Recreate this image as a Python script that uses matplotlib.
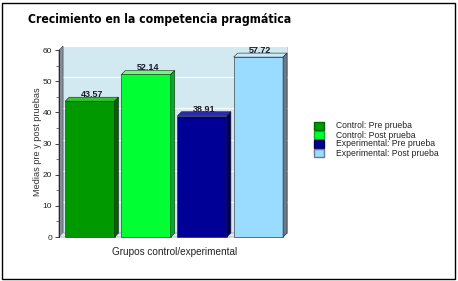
import matplotlib
matplotlib.use("Agg")
import matplotlib.pyplot as plt
from matplotlib.patches import Polygon, Rectangle
from matplotlib import font_manager as fm

categories = ["Control: Pre prueba", "Control: Post prueba",
              "Experimental: Pre prueba", "Experimental: Post prueba"]
values = [43.57, 52.14, 38.91, 57.72]
value_labels = ["43.57", "52.14", "38.91", "57.72"]
yticks = [0, 10, 20, 30, 40, 50, 60]
title = "Crecimiento en la competencia pragmática"
ylabel = "Medias pre y post pruebas"
xlabel = "Grupos control/experimental"

front_colors = ["#009a00", "#00ff33", "#000096", "#99dcff"]
top_colors = ["#33c433", "#66ff77", "#2a2ab0", "#c8ecff"]
side_colors = ["#006400", "#00b020", "#000058", "#6a7c88"]

title_kw = dict(family="Roboto", fontweight="black", fontsize=7.9)
try:
    fp = fm.FontProperties(family="DejaVu Sans", stretch="condensed", weight="bold")
    fpath = fm.findfont(fp, fallback_to_default=False)
    if "Condensed" in fpath:
        title_kw = dict(fontproperties=fm.FontProperties(fname=fpath, size=8.7))
except Exception:
    pass

W, H = 458, 281
fig = plt.figure(figsize=(W / 100, H / 100), dpi=100)
fig.patch.set_facecolor("white")

fig.add_artist(Rectangle((2 / W, 2 / H), 453 / W, 276 / H, transform=fig.transFigure,
                         fill=False, edgecolor="black", lw=1.0))

x0, x1 = 59, 287
y0, y1 = 237, 50
ax = fig.add_axes([x0 / W, (H - y0) / H, (x1 - x0) / W, (y0 - y1) / H])
ax.set_facecolor("none")
ax.set_ylim(0, 60)
ax.set_xlim(-0.55, 3.51)

px_x = (x1 - x0) / (3.51 + 0.55)
px_y = (y0 - y1) / 60.0
ddx = 4 / px_x
ddy = 4 / px_y
xl, xr = ax.get_xlim()

ax.add_patch(Rectangle((xl + ddx, ddy), xr - xl - ddx, 60, facecolor="#d3e9f1",
                       edgecolor="#b8c8d0", lw=0.6, clip_on=False, zorder=0))
for t in yticks[1:]:
    ax.plot([xl + ddx, xr], [t + ddy, t + ddy], color="white", lw=0.8, zorder=0.5,
            clip_on=False)
ax.add_patch(Polygon([(xl, 0), (xl + ddx, ddy), (xl + ddx, 60 + ddy), (xl, 60)],
                     closed=True, facecolor="#858f96", edgecolor="#50585e", lw=0.5,
                     clip_on=False, zorder=0.6))
ax.add_patch(Polygon([(xl, 0), (xl + ddx, ddy), (xr, ddy), (xr - ddx, 0)],
                     closed=True, facecolor="#e4ecf0", edgecolor="#9aa4aa", lw=0.5,
                     clip_on=False, zorder=0.6))

width = 0.88
for i, v in enumerate(values):
    left = i - width / 2
    right = i + width / 2
    ax.bar(i, v, width=width, color=front_colors[i], edgecolor="#202020", lw=0.4,
           zorder=2, clip_on=False)
    ax.add_patch(Polygon([(left, v), (left + ddx, v + ddy), (right + ddx, v + ddy), (right, v)],
                         closed=True, facecolor=top_colors[i], edgecolor="#202020", lw=0.4,
                         zorder=2, clip_on=False))
    ax.add_patch(Polygon([(right, 0), (right + ddx, ddy), (right + ddx, v + ddy), (right, v)],
                         closed=True, facecolor=side_colors[i], edgecolor="#202020", lw=0.4,
                         zorder=2, clip_on=False))
    ax.text(i + ddx / 2, v + ddy * 0.5, value_labels[i], ha="center", va="bottom",
            fontsize=6.5, color="#1a1a2a", fontweight="bold", family="Liberation Sans",
            zorder=3)

for s in ["top", "right", "bottom"]:
    ax.spines[s].set_visible(False)
ax.spines["left"].set_color("#303030")
ax.spines["left"].set_linewidth(0.8)
ax.set_yticks(yticks)
ax.set_yticks(range(5, 60, 10), minor=True)
ax.tick_params(axis="y", which="major", length=3, width=0.6, labelsize=6,
               pad=2, colors="#222222")
ax.tick_params(axis="y", which="minor", length=2, width=0.5, colors="#444444")
ax.set_xticks([])
for lab in ax.get_yticklabels():
    lab.set_family("Liberation Sans")

fig.text(37 / W, 1 - 142 / H, ylabel, rotation=90, ha="center", va="center",
         fontsize=6.6, family="Liberation Sans", color="#333333")
fig.text(175 / W, 1 - 252 / H, xlabel, ha="center", va="center",
         fontsize=7.2, family="Liberation Sans", color="#222222")
fig.text(28 / W, 1 - 20 / H, title, ha="left", va="center", color="black", **title_kw)

ly = [126, 135, 144, 153]
for i, lab in enumerate(categories):
    fig.add_artist(Rectangle((314 / W, (H - ly[i] - 4) / H), 10 / W, 8 / H,
                             transform=fig.transFigure, facecolor=front_colors[i],
                             edgecolor=side_colors[i], lw=1.0))
    fig.text(336 / W, 1 - ly[i] / H, lab, ha="left", va="center", fontsize=6.2,
             family="Liberation Sans", color="#222222")

fig.savefig("out.png", dpi=100)
